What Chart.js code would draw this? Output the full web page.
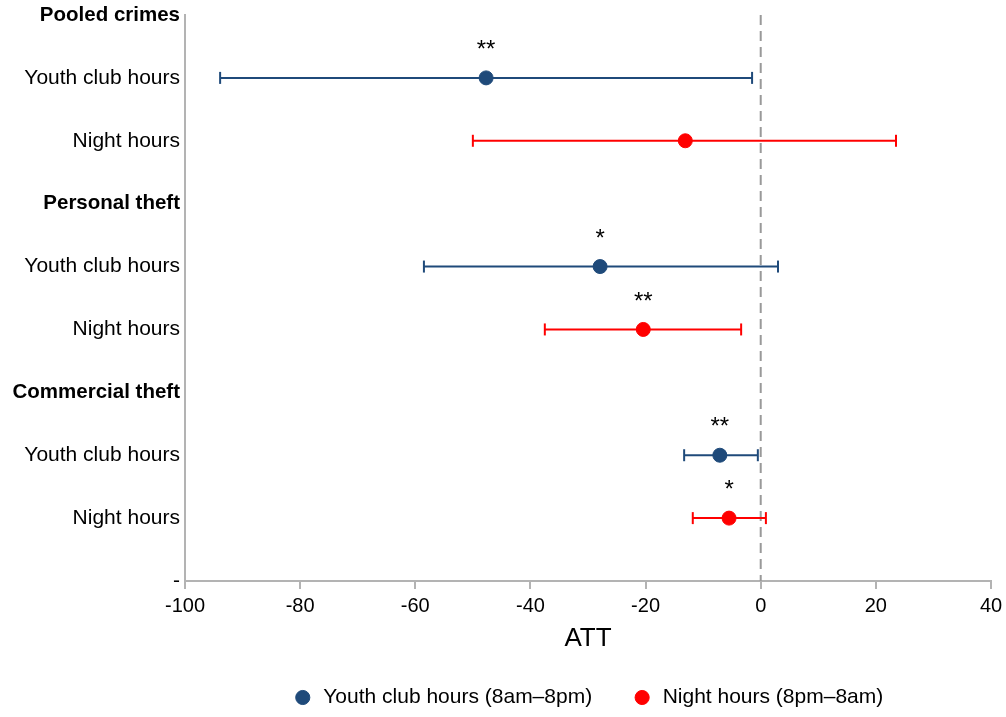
<!DOCTYPE html>
<html>
<head>
<meta charset="utf-8">
<script src="https://cdn.jsdelivr.net/npm/chart.js@4.4.1/dist/chart.umd.min.js"></script>
<style>
  html, body { margin: 0; padding: 0; background: #fff; }
  #wrap { width: 1006px; height: 717px; }
</style>
</head>
<body>
<div id="wrap"><canvas id="grafica"></canvas></div>
<script>
// Rows of the plot, top to bottom
const rowLabels = ["Pooled crimes", "Youth club hours", "Night hours",
                   "Personal theft", "Youth club hours", "Night hours",
                   "Commercial theft", "Youth club hours", "Night hours", "-"];
const headerRows = [0, 3, 6];

// Youth club hours (8am-8pm)
const youthRows = [1, 4, 7];
const youthEst = [-47.7, -27.9, -7.1];
const youthLo = [-93.9, -58.5, -13.3];
const youthHi = [-1.5, 3.0, -0.5];
const youthStars = ["**", "*", "**"];

// Night hours (8pm-8am)
const nightRows = [2, 5, 8];
const nightEst = [-13.1, -20.4, -5.5];
const nightLo = [-50.0, -37.5, -11.8];
const nightHi = [23.5, -3.4, 0.9];
const nightStars = ["", "**", "*"];

const xTicks = [-100, -80, -60, -40, -20, 0, 20, 40];

const blue = "#1f4a7a";
const red = "#ff0000";

function errorBars(rows, lo, hi, color) {
    let sets = [];
    for (let i = 0; i < rows.length; i++) {
        sets.push({
            type: "line",
            data: [{x: lo[i], y: rows[i]}, {x: hi[i], y: rows[i]}],
            borderColor: color,
            borderWidth: 2,
            pointStyle: "line",
            rotation: 90,
            pointRadius: 6,
            pointBorderColor: color,
            pointBorderWidth: 2,
            order: 2,
            isBar: true
        });
    }
    return sets;
}

const datasets = [{
    type: "line",
    data: [{x: 0, y: 0}, {x: 0, y: 9}],
    borderColor: "#999999",
    borderWidth: 2,
    borderDash: [10, 6],
    pointRadius: 0,
    order: 3,
    isBar: true
}]
    .concat(errorBars(youthRows, youthLo, youthHi, blue))
    .concat(errorBars(nightRows, nightLo, nightHi, red))
    .concat([{
        label: "Youth club hours (8am\u20138pm)",
        data: youthRows.map((r, i) => ({x: youthEst[i], y: r})),
        backgroundColor: blue,
        borderColor: blue,
        pointRadius: 7,
        pointStyle: "circle",
        order: 1,
        stars: youthStars
    }, {
        label: "Night hours (8pm\u20138am)",
        data: nightRows.map((r, i) => ({x: nightEst[i], y: r})),
        backgroundColor: red,
        borderColor: red,
        pointRadius: 7,
        pointStyle: "circle",
        order: 1,
        stars: nightStars
    }]);

// asterisks above the estimates
const starPlugin = {
    id: "stars",
    afterDatasetsDraw(chart) {
        const ctx = chart.ctx;
        const xs = chart.scales.x, ys = chart.scales.y;
        ctx.save();
        ctx.fillStyle = "#000";
        ctx.font = "24px 'Liberation Sans', Arial, sans-serif";
        ctx.textAlign = "center";
        ctx.textBaseline = "alphabetic";
        chart.data.datasets.forEach(ds => {
            if (!ds.stars) return;
            ds.data.forEach((p, i) => {
                if (ds.stars[i]) {
                    ctx.fillText(ds.stars[i], xs.getPixelForValue(p.x), ys.getPixelForValue(p.y - 0.33));
                }
            });
        });
        ctx.restore();
    }
};

Chart.defaults.font.family = "'Liberation Sans', Arial, sans-serif";
Chart.defaults.color = "#000";

new Chart(document.getElementById("grafica"), {
    type: "scatter",
    data: {datasets: datasets},
    options: {
        responsive: true,
        maintainAspectRatio: false,
        animation: false,
        layout: {padding: {top: 15, right: 15, left: 0, bottom: 0}},
        scales: {
            x: {
                type: "linear",
                min: -100,
                max: 40,
                afterBuildTicks: (scale) => { scale.ticks = xTicks.map(v => ({value: v})); },
                ticks: {font: {size: 20}, padding: 5, maxRotation: 0},
                grid: {drawOnChartArea: false, drawTicks: true, tickLength: 8, color: "#b3b3b3", lineWidth: 2},
                border: {color: "#b3b3b3", width: 2},
                title: {display: true, text: "ATT", font: {size: 26}, padding: {top: 0, bottom: -7}},
                afterFit: (scale) => {
                    scale.height = 66;
                    scale.paddingLeft = 0;
                    scale.paddingRight = 0;
                }
            },
            y: {
                type: "linear",
                reverse: true,
                min: 0,
                max: 9,
                afterBuildTicks: (scale) => { scale.ticks = rowLabels.map((l, i) => ({value: i})); },
                ticks: {
                    padding: 5,
                    callback: (v) => rowLabels[v],
                    font: (c) => headerRows.includes(c.index)
                        ? {size: 20.5, weight: "bold"} : {size: 21}
                },
                grid: {display: false, drawTicks: false},
                border: {color: "#b3b3b3", width: 2},
                afterFit: (scale) => {
                    scale.width = 185;
                    scale.paddingTop = 0;
                    scale.paddingBottom = 0;
                }
            }
        },
        plugins: {
            legend: {
                position: "bottom",
                fullSize: false,
                maxHeight: 70,
                labels: {
                    usePointStyle: true,
                    boxWidth: 20,
                    boxHeight: 10,
                    padding: 40,
                    font: {size: 21},
                    filter: (item, data) => !data.datasets[item.datasetIndex].isBar
                }
            },
            tooltip: {enabled: false}
        }
    },
    plugins: [starPlugin]
});
</script>
</body>
</html>
